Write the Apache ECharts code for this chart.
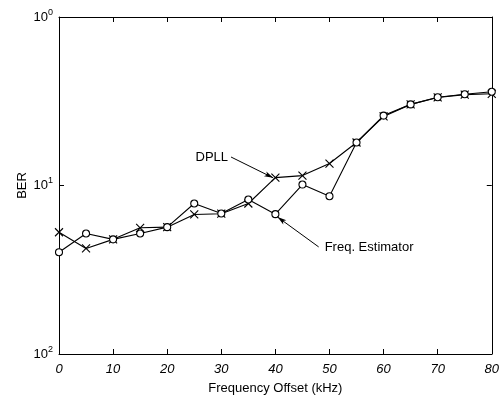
<!DOCTYPE html>
<html>
<head>
<meta charset="utf-8">
<script src="https://cdn.jsdelivr.net/npm/echarts@6/dist/echarts.min.js"></script>
<style>
  html, body { margin: 0; padding: 0; background: #fff; }
  #chart { width: 502px; height: 402px; }
</style>
</head>
<body>
<div id="chart"></div>
<script>
const offsets = [0, 5, 10, 15, 20, 25, 30, 35, 40, 45, 50, 55, 60, 65, 70, 75, 80];
const berDpll = [0.0528, 0.0423, 0.0479, 0.0561, 0.0566, 0.0673, 0.068, 0.0782, 0.1114, 0.1145,
  0.135, 0.180, 0.257, 0.303, 0.333, 0.346, 0.350];
const berFreq = [0.0402, 0.0519, 0.0479, 0.0519, 0.0566, 0.0782, 0.0682, 0.0826, 0.0676, 0.1013,
  0.0864, 0.180, 0.260, 0.303, 0.334, 0.348, 0.360];
const xTicks = [0, 10, 20, 30, 40, 50, 60, 70, 80];
// arrow annotations: [from, to] in data units
const dpllArrow = [[31.8, 0.1476], [39.6, 0.111]];
const freqArrow = [[48.0, 0.0432], [40.4, 0.065]];

const font = '"Liberation Sans", Arial, sans-serif';
const crossPath = 'path://M0,0L10,10M10,0L0,10';

function pairs(ys) {
  return offsets.map((x, i) => [x, ys[i]]);
}

function arrowLine(a) {
  return {
    silent: true,
    symbol: ['none', 'arrow'],
    symbolSize: [4, 9],
    lineStyle: { color: '#000', width: 1, type: 'solid' },
    label: { show: false },
    data: [[{ coord: a[0] }, { coord: a[1] }]]
  };
}

const chart = echarts.init(document.getElementById('chart'));

const axisCommon = {
  axisLine: { show: true, onZero: false, lineStyle: { color: '#000', width: 1 } },
  axisTick: { show: true, inside: true, length: 5, lineStyle: { color: '#000' } },
  splitLine: { show: false }
};

chart.setOption({
  animation: false,
  backgroundColor: '#fff',
  grid: { left: 59, right: 5, top: 17, bottom: 48, containLabel: false },
  xAxis: [
    Object.assign({
      type: 'value', min: 0, max: 80, interval: 10,
      name: 'Frequency Offset (kHz)', nameLocation: 'middle', nameGap: 28,
      nameTextStyle: { fontFamily: font, fontSize: 13, color: '#000' },
      axisLabel: {
        fontFamily: font, fontSize: 13, fontStyle: 'italic', color: '#000', margin: 9,
        formatter: v => (xTicks.includes(v) ? String(v) : '')
      }
    }, axisCommon),
    Object.assign({
      type: 'value', min: 0, max: 80, interval: 10, position: 'top',
      axisLabel: { show: false }
    }, axisCommon)
  ],
  yAxis: [
    Object.assign({
      type: 'log', logBase: 10, min: 0.01, max: 1,
      axisLabel: {
        margin: 6,
        formatter: v => '{b|10}{s|' + Math.round(Math.abs(Math.log10(v))) + '}',
        rich: {
          b: { fontFamily: font, fontSize: 13, color: '#000' },
          s: { fontFamily: font, fontSize: 9, color: '#000', verticalAlign: 'top', padding: [0, 0, 9, 0] }
        }
      }
    }, axisCommon),
    Object.assign({
      type: 'log', logBase: 10, min: 0.01, max: 1, position: 'right',
      axisLabel: { show: false }
    }, axisCommon)
  ],
  series: [
    {
      name: 'DPLL', type: 'line', data: pairs(berDpll),
      symbol: crossPath, symbolSize: 8, showAllSymbol: true,
      lineStyle: { color: '#000', width: 1.1 },
      itemStyle: { color: 'none', borderColor: '#000', borderWidth: 1.1 },
      markLine: arrowLine(dpllArrow)
    },
    {
      name: 'Freq. Estimator', type: 'line', data: pairs(berFreq),
      symbol: 'circle', symbolSize: 7, showAllSymbol: true,
      lineStyle: { color: '#000', width: 1.1 },
      itemStyle: { color: '#fff', borderColor: '#000', borderWidth: 1.1 },
      markLine: arrowLine(freqArrow)
    }
  ]
});

const pD = chart.convertToPixel({ gridIndex: 0 }, dpllArrow[0]);
const pF = chart.convertToPixel({ gridIndex: 0 }, freqArrow[0]);
const midY = chart.convertToPixel({ yAxisIndex: 0 }, 0.1);
chart.setOption({
  graphic: [
    { type: 'text', x: 22, y: midY, rotation: Math.PI / 2, style: { text: 'BER', fill: '#000', font: '13px ' + font, align: 'center', verticalAlign: 'middle' } },
    { type: 'text', x: pD[0] - 3, y: pD[1], style: { text: 'DPLL', fill: '#000', font: '13px ' + font, align: 'right', verticalAlign: 'middle' } },
    { type: 'text', x: pF[0] + 6, y: pF[1] + 1, style: { text: 'Freq. Estimator', fill: '#000', font: '13px ' + font, align: 'left', verticalAlign: 'middle' } }
  ]
});
</script>
</body>
</html>
